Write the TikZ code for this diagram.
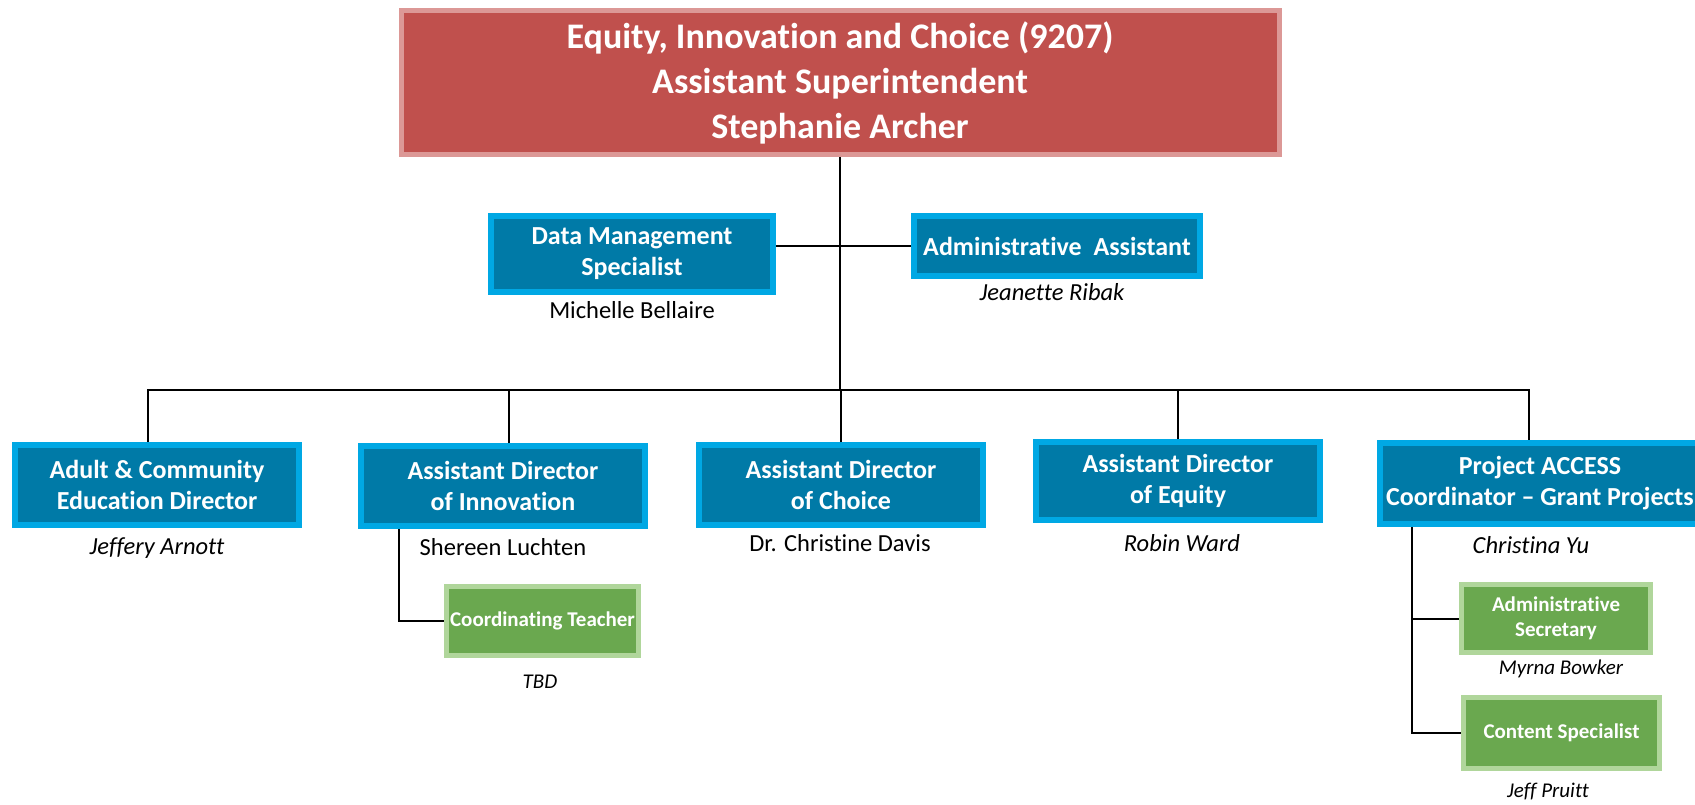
\documentclass[tikz,border=0pt]{standalone}
\usepackage{fontspec}
\setmainfont[Ligatures = NoCommon]{Carlito}
\usetikzlibrary{positioning}
\definecolor{topred}{RGB}{192,80,77}
\definecolor{topedge}{RGB}{220,152,150}
\definecolor{boxblue}{RGB}{0,122,167}
\definecolor{boxedge}{RGB}{0,168,228}
\definecolor{subgreen}{RGB}{106,168,79}
\definecolor{subedge}{RGB}{176,214,155}
\tikzset{
    headbox/.style = {draw = topedge, fill = topred, line width = 5pt, text = white,
        font = \fontsize{36}{45}\selectfont\bfseries, align = center, inner sep = 0pt},
    rolebox/.style = {draw = boxedge, fill = boxblue, line width = 6pt, text = white,
        font = \fontsize{26}{31}\selectfont\bfseries, align = center, inner sep = 0pt},
    teambox/.style = {draw = subedge, fill = subgreen, line width = 5pt, text = white,
        font = \fontsize{21}{25}\selectfont\bfseries, align = center, inner sep = 0pt},
    person/.style = {font = \fontsize{24.5}{28}\selectfont, text height = 16pt, text depth = 5pt, inner sep = 0pt},
    italicperson/.style = {person, font = \fontsize{24.5}{28}\selectfont\itshape},
    smallperson/.style = {font = \fontsize{21}{25}\selectfont\itshape, text height = 14pt, text depth = 4pt, inner sep = 0pt},
    link/.style = {line width = 2pt}
}

\begin{document}
\begin{tikzpicture}[x = 1pt, y = -1pt]
    \useasboundingbox (0,0) rectangle (1695,805);

    \node[headbox, minimum width = 878pt, minimum height = 144pt] (chief) at (840,82.5)
        {Equity, Innovation and Choice (9207)\\Assistant Superintendent\\Stephanie Archer};

    \node[rolebox, minimum width = 282pt, minimum height = 76pt] (datamgr) at (632,254)
        {Data Management\\Specialist};
    \node[rolebox, minimum width = 286pt, minimum height = 60pt] (adminasst) at (1057,246)
        {Administrative\ \ Assistant};
    \node[person] (datamgrname) at (632,313) {Michelle Bellaire};
    \node[italicperson] (adminasstname) at (1052,295) {Jeanette Ribak};

    \node[rolebox, minimum width = 284pt, minimum height = 80pt] (adult) at (157,485)
        {Adult \& Community\\Education Director};
    \node[rolebox, minimum width = 284pt, minimum height = 80pt] (innov) at (503,486)
        {Assistant Director\\of Innovation};
    \node[rolebox, minimum width = 284pt, minimum height = 80pt] (choice) at (841,485)
        {Assistant Director\\of Choice};
    \node[rolebox, minimum width = 284pt, minimum height = 78pt] (equity) at (1178,481)
        {Assistant Director\\of Equity};
    \node[rolebox, minimum width = 320pt, minimum height = 81pt] (access) at (1540,483.5)
        {Project ACCESS\\Coordinator -- Grant Projects};

    \node[italicperson] (adultname) at (157,549) {Jeffery Arnott};
    \node[person] (innovname) at (503,550) {Shereen Luchten};
    \node[person] (choicename) at (840,546) {Dr. Christine Davis};
    \node[italicperson] (equityname) at (1182,546) {Robin Ward};
    \node[italicperson] (accessname) at (1531,548) {Christina Yu};

    \node[teambox, minimum width = 192pt, minimum height = 69pt] (coord) at (542.5,621)
        {Coordinating Teacher};
    \node[teambox, minimum width = 189pt, minimum height = 68pt] (secretary) at (1556,618.5)
        {Administrative\\Secretary};
    \node[teambox, minimum width = 196pt, minimum height = 71pt] (content) at (1561.5,733)
        {Content Specialist};

    \node[smallperson] (coordname) at (540,683) {TBD};
    \node[smallperson] (secretaryname) at (1561,669) {Myrna Bowker};
    \node[smallperson] (contentname) at (1548,792) {Jeff Pruitt};

    \coordinate (bus) at (840,390);
    \draw[link] (chief.south) -- (bus);
    \draw[link] (datamgr.east |- adminasst.west) -- (adminasst.west);
    \draw[link] ([xshift = -9pt]adult.north) |- (bus) -| ([xshift = -11pt]access.north);
    \draw[link] ([xshift = 6pt]innov.north) -- ([xshift = 6pt]innov.north |- bus);
    \draw[link] (choice.north) -- (choice.north |- bus);
    \draw[link] (equity.north) -- (equity.north |- bus);

    \coordinate (innovdrop) at ([xshift = -104pt]innov.south);
    \draw[link] (innovdrop) |- (coord.west);
    \coordinate (accessdrop) at ([xshift = -128pt]access.south);
    \draw[link] (accessdrop) |- (content.west);
    \draw[link] (accessdrop |- secretary.west) -- (secretary.west);
\end{tikzpicture}
\end{document}
